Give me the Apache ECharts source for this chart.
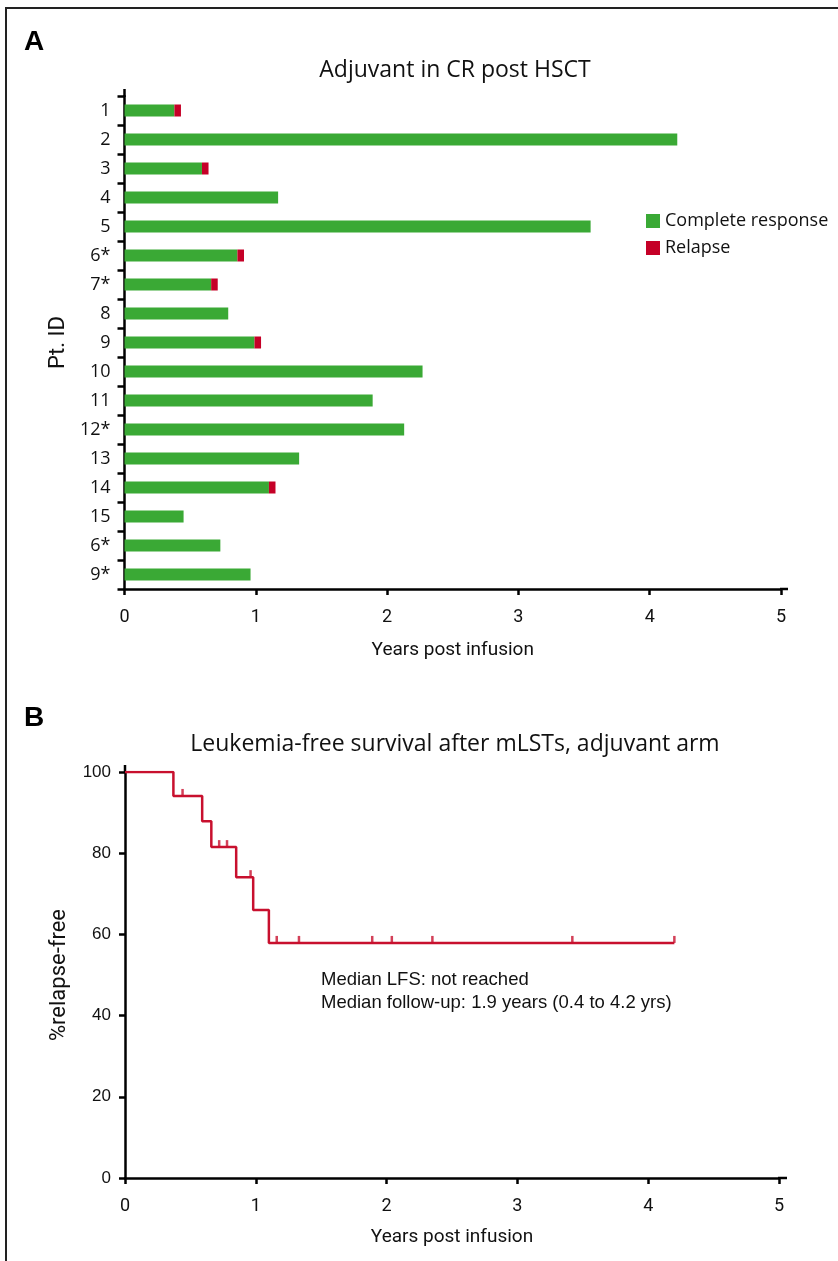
<!DOCTYPE html>
<html><head><meta charset="utf-8">
<script src="https://cdn.jsdelivr.net/npm/echarts@6/dist/echarts.min.js"></script>
<style>html,body{margin:0;padding:0;background:#fff}#c{width:838px;height:1261px}</style>
</head><body><div id="c"></div>
<script>
// ---- Panel A data ----
const patients = ['1','2','3','4','5','6*','7*','8','9','10','11','12*','13','14','15','6*','9*'];
const crYears   = [0.38,4.21,0.59,1.17,3.55,0.86,0.66,0.79,0.99,2.27,1.89,2.13,1.33,1.10,0.45,0.73,0.96];
const relapseYears = [0.05,0,0.05,0,0,0.05,0.05,0,0.05,0,0,0,0,0.05,0,0,0];
const xTicksA = [0,1,2,3,4,5];
// ---- Panel B data ----
const kmTimes  = [0,0.37,0.59,0.66,0.85,0.98,1.10,4.20];
const kmLevels = [100,94.1,87.9,81.5,74.1,66.0,57.9,57.9];
const censorTimes  = [0.44,0.72,0.78,0.96,1.16,1.33,1.89,2.04,2.35,3.42,4.20];
const censorLevels = [94.1,81.5,81.5,74.1,57.9,57.9,57.9,57.9,57.9,57.9,57.9];
const yTicksB = [0,20,40,60,80,100];

const GREEN='#3aa935', RED='#c50027', KM='#c8102e';
const F = '"Open Sans", Lato, sans-serif';
const NARROW = 'Roboto, sans-serif';
const ARIAL = '"Liberation Sans", Arial, sans-serif';

const chart = echarts.init(document.getElementById('c'), null, {renderer:'canvas'});
const axisLine = {show:true, onZero:false, lineStyle:{color:'#000', width:2.5}};
const tick = len => ({show:true, length:len, lineStyle:{color:'#000', width:2.5}});
const option = {
  animation:false,
  backgroundColor:'#fff',
  grid:[
    {left:124.5, top:96, width:656.5, height:493},
    {left:125, top:772, width:654, height:406}
  ],
  legend:{
    orient:'vertical', left:641, top:207, itemWidth:14, itemHeight:14, itemGap:9,
    icon:'rect', textStyle:{fontFamily:F, fontSize:18, color:'#111'},
    data:['Complete response','Relapse']
  },
  xAxis:[
    {gridIndex:0, type:'value', min:0, max:5, interval:1,
     axisLine:axisLine, axisTick:tick(6), splitLine:{show:false},
     axisLabel:{fontFamily:NARROW, fontSize:18, color:'#111', margin:19,
       formatter:v=>xTicksA.includes(v)?String(v):''},
     name:'Years post infusion', nameLocation:'middle', nameGap:52,
     nameTextStyle:{fontFamily:NARROW, fontSize:19, color:'#111'}},
    {gridIndex:1, type:'value', min:0, max:5, interval:1,
     axisLine:axisLine, axisTick:tick(6), splitLine:{show:false},
     axisLabel:{fontFamily:NARROW, fontSize:18, color:'#111', margin:19},
     name:'Years post infusion', nameLocation:'middle', nameGap:50,
     nameTextStyle:{fontFamily:NARROW, fontSize:19, color:'#111'}}
  ],
  yAxis:[
    {gridIndex:0, type:'category', data:patients, inverse:true,
     axisLine:axisLine, axisTick:tick(7),
     axisLabel:{fontFamily:F, fontSize:18, color:'#111', margin:14},
     name:'Pt. ID', nameLocation:'middle', nameGap:55,
     nameTextStyle:{fontFamily:NARROW, fontSize:22, color:'#111'}},
    {gridIndex:1, type:'value', min:0, max:100, interval:20,
     axisLine:axisLine, axisTick:tick(6), splitLine:{show:false},
     axisLabel:{fontFamily:ARIAL, fontSize:17, color:'#111', margin:14,
       formatter:v=>yTicksB.includes(v)?String(v):''},
     name:'%relapse-free', nameLocation:'middle', nameGap:55,
     nameTextStyle:{fontFamily:NARROW, fontSize:22, color:'#111'}}
  ],
  series:[
    {name:'Complete response', type:'bar', stack:'a', xAxisIndex:0, yAxisIndex:0,
     data:crYears, barWidth:12, itemStyle:{color:GREEN}},
    {name:'Relapse', type:'bar', stack:'a', xAxisIndex:0, yAxisIndex:0,
     data:relapseYears, barWidth:12, itemStyle:{color:RED}},
    {name:'LFS', type:'line', xAxisIndex:1, yAxisIndex:1, step:'end', showSymbol:false,
     data:kmTimes.map((t,i)=>[t,kmLevels[i]]), lineStyle:{color:KM, width:2.5}},
    {name:'Censored', type:'scatter', xAxisIndex:1, yAxisIndex:1, symbol:'rect',
     symbolSize:[2.5,7], symbolOffset:[0,-3.5],
     data:censorTimes.map((t,i)=>[t,censorLevels[i]]), itemStyle:{color:KM}}
  ],
  graphic:[
    {type:'rect', shape:{x:6, y:8, width:900, height:1300}, style:{fill:'none', stroke:'#222', lineWidth:2}, silent:true},
    // axis line overhangs
    {type:'line', shape:{x1:124.5, y1:89, x2:124.5, y2:97}, style:{stroke:'#000', lineWidth:2.5}},
    {type:'line', shape:{x1:780, y1:589, x2:788, y2:589}, style:{stroke:'#000', lineWidth:2.5}},
    {type:'line', shape:{x1:125, y1:765, x2:125, y2:773}, style:{stroke:'#000', lineWidth:2.5}},
    {type:'line', shape:{x1:778, y1:1178, x2:787, y2:1178}, style:{stroke:'#000', lineWidth:2.5}},
    {type:'text', x:24, y:42, style:{text:'A', font:'bold 28px "Liberation Sans",Arial,sans-serif', fill:'#000', textVerticalAlign:'middle', verticalAlign:'middle'}},
    {type:'text', x:24, y:718, style:{text:'B', font:'bold 28px "Liberation Sans",Arial,sans-serif', fill:'#000', textVerticalAlign:'middle', verticalAlign:'middle'}},
    {type:'text', x:455, y:70, style:{text:'Adjuvant in CR post HSCT', font:'23px "Open Sans",sans-serif', fill:'#111', textAlign:'center', align:'center', textVerticalAlign:'middle', verticalAlign:'middle'}},
    {type:'text', x:455, y:744, style:{text:'Leukemia-free survival after mLSTs, adjuvant arm', font:'23px "Open Sans",sans-serif', fill:'#111', textAlign:'center', align:'center', textVerticalAlign:'middle', verticalAlign:'middle'}},
    {type:'text', x:321, y:980, style:{text:'Median LFS: not reached', font:'18.5px "Liberation Sans",Arial,sans-serif', fill:'#111', textVerticalAlign:'middle', verticalAlign:'middle'}},
    {type:'text', x:321, y:1003, style:{text:'Median follow-up: 1.9 years (0.4 to 4.2 yrs)', font:'18.5px "Liberation Sans",Arial,sans-serif', fill:'#111', textVerticalAlign:'middle', verticalAlign:'middle'}}
  ]
};
chart.setOption(option);
</script></body></html>
